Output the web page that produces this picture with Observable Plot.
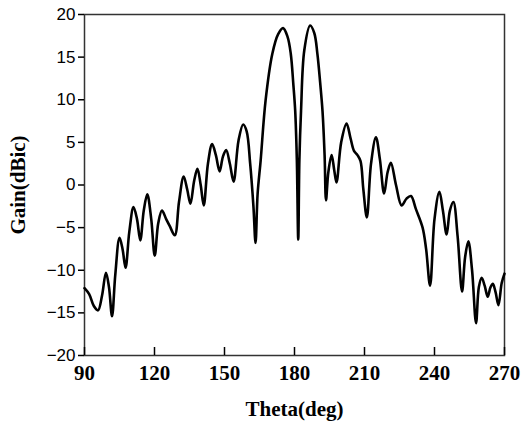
<!DOCTYPE html>
<html>
<head>
<meta charset="utf-8">
<script src="https://cdn.jsdelivr.net/npm/d3@7"></script>
<script src="https://cdn.jsdelivr.net/npm/@observablehq/plot@0.6"></script>
<style>
  html, body { margin: 0; padding: 0; background: #fff; }
</style>
</head>
<body>
<div id="chart"></div>
<script>
const xTitle = "Theta(deg)";
const yTitle = "Gain(dBic)";
const xTicks = [90, 120, 150, 180, 210, 240, 270];
const yTicks = [-20, -15, -10, -5, 0, 5, 10, 15, 20];

const theta = [
  90, 92, 94, 95.8, 97.5, 99.2, 100.5, 101.8, 103.2, 105.0,
  106.3, 107.6, 109.2, 111.0, 112.5, 113.9, 115.4, 116.9, 118.6, 120.1,
  121.6, 123.2, 125, 126.5, 128.7, 130.5, 132.5, 134, 135.4, 137,
  138.4, 139.8, 141.1, 142.9, 144.7, 146.3, 147.9, 149.3, 150.7, 152.3,
  153.9, 156, 158.0, 159.5, 161, 162.4, 163.3, 164.2, 165.5, 167.6,
  170.5, 173, 175.1, 177, 178.4, 179.5, 180.3, 181.0, 181.6, 182.1,
  182.8, 184.2, 186.7, 188.5, 189.8, 191, 192.0, 192.9, 193.5, 194.5,
  195.9, 197.0, 198.0, 200, 202.3, 204, 205.5, 207, 208.3, 209.5,
  211.0, 212.8, 214.9, 216.6, 218.4, 219.9, 221.3, 223.5, 225.9, 228,
  229.9, 232, 234.9, 236.4, 238.1, 240, 242.1, 243.6, 245.2, 246.6,
  248.1, 249.9, 251.8, 253.1, 254.5, 256.1, 257.8, 259, 260.2, 261.5,
  262.8, 264, 265.0, 266.2, 267.4, 268.8, 270
];
const gain = [
  -12.1, -12.8, -14.2, -14.7, -13.0, -10.3, -12.0, -15.4, -10.5, -6.2,
  -7.5, -9.7, -5.5, -2.6, -4.0, -6.5, -3.0, -1.1, -4.0, -8.3,
  -4.5, -3.0, -4.0, -4.8, -5.9, -2.0, 1.0, -0.5, -2.2, 0.5,
  1.9, 0.0, -2.4, 2.5, 4.8, 3.5, 1.6, 3.3, 4.1, 2.5,
  0.4, 5.2, 7.1, 6.3, 2.5, -2.5, -6.8, -1.0, 2.9, 9.9,
  15.4, 17.7, 18.4, 17.4, 15.4, 11.8, 8.7, 3.0, -6.4, 3.0,
  8.7, 15.8, 18.7, 17.8, 15.4, 12.0, 8.7, 3.5, -1.8, 1.5,
  3.5, 1.8, 0.3, 5.0, 7.2, 5.5, 4.0, 3.5, 2.8, -0.5,
  -3.8, 2.5, 5.6, 3.0, -1.0, 1.5, 2.6, 0.0, -2.4, -1.6,
  -1.3, -2.8, -5.0, -7.5, -11.8, -4.0, -0.8, -3.0, -5.8, -3.0,
  -2.0, -6.0, -12.5, -8.5, -6.6, -10.0, -16.2, -12.0, -10.9, -11.8,
  -13.1, -12.0, -11.6, -12.6, -14.1, -11.5, -10.4
];

const data = theta.map((t, i) => ({theta: t, gain: gain[i]}));

const serif = "'Liberation Serif', 'DejaVu Serif', serif";
const sans = "'Liberation Sans', Arial, sans-serif";

const chart = Plot.plot({
  width: 526,
  height: 422,
  marginLeft: 84,
  marginRight: 22,
  marginTop: 14,
  marginBottom: 67,
  style: {background: "#fff", color: "#000"},
  x: {domain: [90, 270]},
  y: {domain: [-20, 20]},
  marks: [
    Plot.frame({stroke: "#333", strokeWidth: 1.5}),
    Plot.axisX({
      ticks: xTicks, tickSize: -8, tickFormat: () => "", label: null, strokeWidth: 1.5
    }),
    Plot.axisX({
      ticks: xTicks, tickSize: 0, tickPadding: 10, label: null,
      fontSize: 21, fontWeight: "bold", fontFamily: serif
    }),
    Plot.axisY({
      ticks: yTicks, tickSize: 6, tickPadding: 3, label: null,
      fontSize: 17, fontFamily: sans, strokeWidth: 1.5
    }),
    Plot.line(data, {
      x: "theta", y: "gain", stroke: "#000", strokeWidth: 2.6,
      curve: "catmull-rom"
    }),
    Plot.text([xTitle], {
      text: d => d, frameAnchor: "bottom", dy: 54, lineAnchor: "middle",
      fontSize: 21, fontWeight: "bold", fontFamily: serif, fill: "#000"
    }),
    Plot.text([yTitle], {
      text: d => d, frameAnchor: "left", dx: -66, rotate: -90,
      textAnchor: "middle", lineAnchor: "middle",
      fontSize: 21, fontWeight: "bold", fontFamily: serif, fill: "#000"
    })
  ]
});
document.getElementById("chart").appendChild(chart);
</script>
</body>
</html>
